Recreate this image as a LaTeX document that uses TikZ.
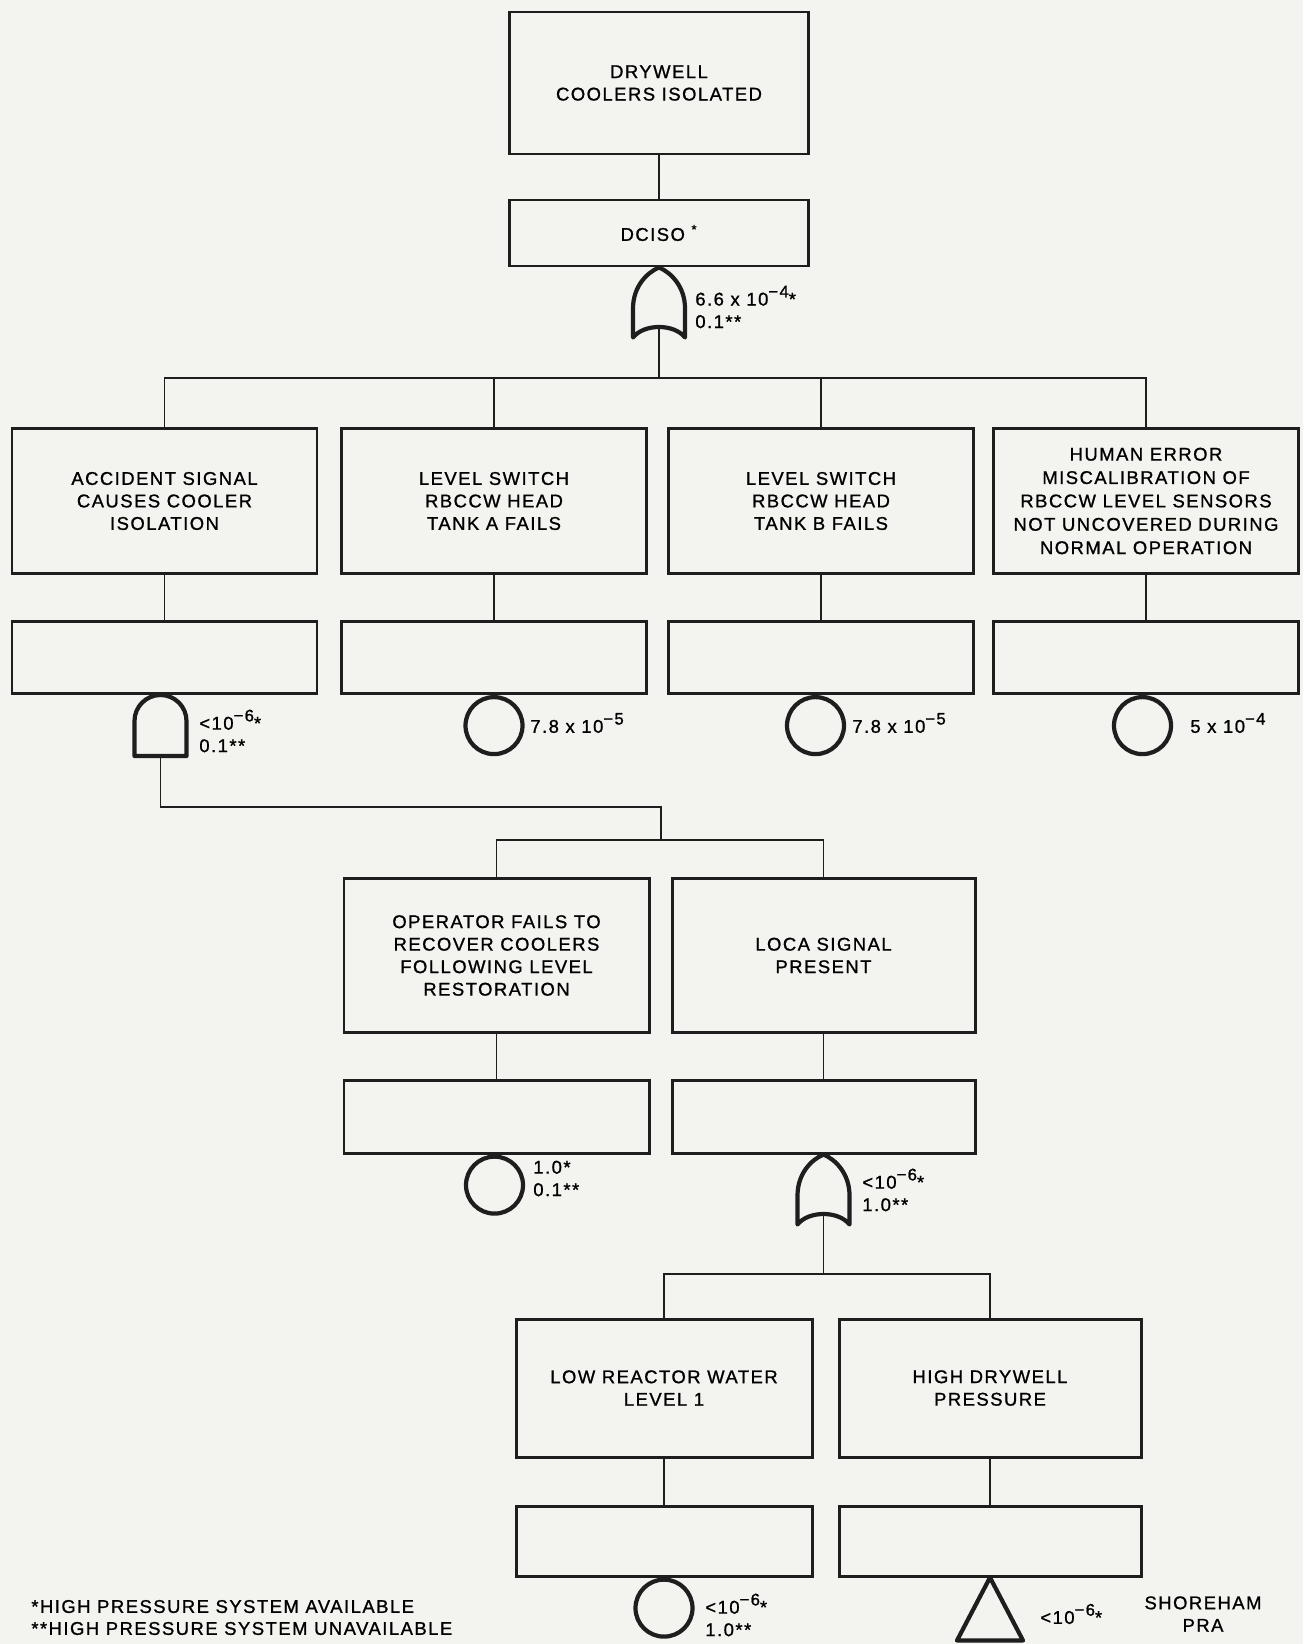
\documentclass[tikz,border=0pt]{standalone}
\usepackage{fontspec}
\setmainfont[LetterSpace=8, FakeBold=1]{Liberation Sans}
\usepackage{xcolor}
\usepackage{tikz}

\definecolor{paper}{RGB}{243,243,240}
\definecolor{ink}{RGB}{30,30,30}

% exponent as set on the sheet: larger and higher than \textsuperscript
\newcommand{\pwr}[1]{\raisebox{0.85ex}{\fontsize{9.5}{9.5}\selectfont #1}}

\tikzset{
  event/.style={draw=ink, line width=1.7pt, align=center, minimum width=6.1cm, minimum height=2.9cm, inner sep=0pt},
  idbox/.style={event, minimum height=1.44cm},
  wire/.style={draw=ink, line width=1pt},
  gate/.style={draw=ink, line width=2.4pt, line join=round},
  basic/.style={circle, draw=ink, line width=2.4pt, minimum size=1.14cm, inner sep=0pt, anchor=north},
  prob/.style={anchor=west, align=left, inner sep=0pt},
  % gates hang from the box above, (-in) is where the lower branch joins
  orgate/.pic={
    \draw[gate] (0,0) .. controls (0.24,-0.1) and (0.52,-0.38) .. (0.52,-0.82)
      -- (0.52,-1.4) .. controls (0.3,-1.12) and (-0.3,-1.12) .. (-0.52,-1.4)
      -- (-0.52,-0.82) .. controls (-0.52,-0.38) and (-0.24,-0.1) .. (0,0) -- cycle;
    \coordinate (-in) at (0,-1.19);
  },
  andgate/.pic={
    \draw[gate] (-0.52,-1.22) -- (-0.52,-0.52) arc (180:0:0.52) -- (0.52,-1.22) -- cycle;
    \coordinate (-in) at (0,-1.22);
  },
  xfer/.pic={
    \draw[gate] (0,0) -- (0.66,-1.26) -- (-0.66,-1.26) -- cycle;
  }
}

\begin{document}
\begin{tikzpicture}[font=\fontsize{10.5}{12.8}\selectfont]
    \fill[paper] (0,0) rectangle (26.06,-32.88);
    \useasboundingbox (0,0) rectangle (26.06,-32.88);

    % top event
    \node [event, minimum width=5.98cm, minimum height=2.84cm] (TOP) at (13.18,-1.66) {DRYWELL\\COOLERS ISOLATED};
    \node [idbox, minimum width=5.98cm, minimum height=1.32cm] (TOPID) at (13.18,-4.66) {DCISO \textsuperscript{*}};
    \pic (G0) at (TOPID.south) {orgate};
    \node [prob] (G0L) at (13.9,-6.14) {6.6 x 10\pwr{−4}*\\0.1**};
    \coordinate (BUS0) at (13.18,-7.56);

    % first level
    \node [event] (E1) at (3.29,-10.02) {ACCIDENT SIGNAL\\CAUSES COOLER\\ISOLATION};
    \node [event] (E2) at (9.88,-10.02) {LEVEL SWITCH\\RBCCW HEAD\\TANK A FAILS};
    \node [event] (E3) at (16.42,-10.02) {LEVEL SWITCH\\RBCCW HEAD\\TANK B FAILS};
    \node [event, font=\fontsize{10.5}{13.3}\selectfont] (E4) at (22.92,-10.02) {HUMAN ERROR\\MISCALIBRATION OF\\RBCCW LEVEL SENSORS\\NOT UNCOVERED DURING\\NORMAL OPERATION};

    \node [idbox] (E1ID) at (3.29,-13.15) {};
    \node [idbox] (E2ID) at (9.88,-13.15) {};
    \node [idbox] (E3ID) at (16.42,-13.15) {};
    \node [idbox] (E4ID) at (22.92,-13.15) {};

    \pic (G1) at ([xshift=-0.08cm]E1ID.south) {andgate};
    \node [basic] (P2) at (E2ID.south) {};
    \node [basic, xshift=-0.11cm] (P3) at (E3ID.south) {};
    \node [basic, xshift=-0.07cm] (P4) at (E4ID.south) {};

    \node [prob] (G1L) at (3.98,-14.62) {<10\pwr{−6}*\\0.1**};
    \node [prob] (P2L) at (10.6,-14.46) {7.8 x 10\pwr{−5}};
    \node [prob] (P3L) at (17.04,-14.46) {7.8 x 10\pwr{−5}};
    \node [prob] (P4L) at (23.8,-14.46) {5 x 10\pwr{−4}};

    \draw [wire] (TOP) -- (TOPID);
    \draw [wire] (G0-in) -- (BUS0);
    \draw [wire] (E1.north) |- (BUS0) -| (E4.north);
    \draw [wire] (E2.north) -- (E2.north |- BUS0);
    \draw [wire] (E3.north) -- (E3.north |- BUS0);
    \draw [wire] (E1) -- (E1ID);
    \draw [wire] (E2) -- (E2ID);
    \draw [wire] (E3) -- (E3ID);
    \draw [wire] (E4) -- (E4ID);

    % below the accident signal gate
    \coordinate (J1) at (13.22,-16.14);
    \coordinate (BUS1) at (13.22,-16.8);
    \node [event, minimum height=3.08cm] (E5) at (9.93,-19.11) {OPERATOR FAILS TO\\RECOVER COOLERS\\FOLLOWING LEVEL\\RESTORATION};
    \node [event, minimum width=6.06cm, minimum height=3.08cm] (E6) at (16.47,-19.11) {LOCA SIGNAL\\PRESENT};
    \node [idbox, minimum height=1.46cm] (E5ID) at (9.93,-22.33) {};
    \node [idbox, minimum width=6.06cm, minimum height=1.46cm] (E6ID) at (16.47,-22.33) {};

    \node [basic, xshift=-0.04cm] (P5) at (E5ID.south) {};
    \pic (G6) at (E6ID.south) {orgate};
    \node [prob] (P5L) at (10.66,-23.57) {1.0*\\0.1**};
    \node [prob] (G6L) at (17.24,-23.8) {<10\pwr{−6}*\\1.0**};

    \draw [wire] (G1-in) |- (J1) -- (BUS1);
    \draw [wire] (E5.north) |- (BUS1) -| (E6.north);
    \draw [wire] (E5) -- (E5ID);
    \draw [wire] (E6) -- (E6ID);

    % LOCA signal inputs
    \coordinate (BUS2) at (16.47,-25.48);
    \node [event, minimum width=5.92cm, minimum height=2.76cm] (E7) at (13.28,-27.76) {LOW REACTOR WATER\\LEVEL 1};
    \node [event, minimum width=6.04cm, minimum height=2.76cm] (E8) at (19.8,-27.76) {HIGH DRYWELL\\PRESSURE};
    \node [idbox, minimum width=5.92cm, minimum height=1.4cm] (E7ID) at (13.28,-30.82) {};
    \node [idbox, minimum width=6.04cm, minimum height=1.4cm] (E8ID) at (19.8,-30.82) {};

    \node [basic] (P7) at (E7ID.south) {};
    \pic (X8) at (E8ID.south) {xfer};
    \node [prob] (P7L) at (14.1,-32.3) {<10\pwr{−6}*\\1.0**};
    \node [prob] (X8L) at (20.8,-32.28) {<10\pwr{−6}*};
    \node [align=center, inner sep=0pt] (SRC) at (24.06,-32.28) {SHOREHAM\\PRA};

    \draw [wire] (G6-in) -- (BUS2);
    \draw [wire] (E7.north) |- (BUS2) -| (E8.north);
    \draw [wire] (E7) -- (E7ID);
    \draw [wire] (E8) -- (E8ID);

    % footnotes
    \node [prob, font=\fontsize{10.5}{12.5}\selectfont] (NOTE) at (0.62,-32.35) {*HIGH PRESSURE SYSTEM AVAILABLE\\**HIGH PRESSURE SYSTEM UNAVAILABLE};
\end{tikzpicture}
\end{document}
